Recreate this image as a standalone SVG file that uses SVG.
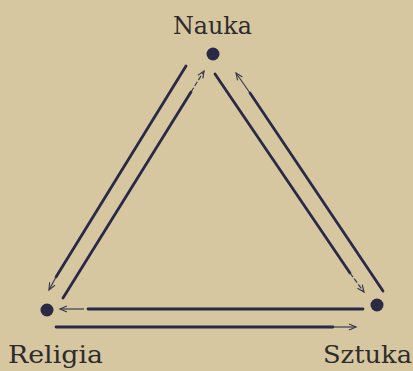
<svg xmlns="http://www.w3.org/2000/svg" width="413" height="371" viewBox="0 0 413 371">
<style>
.bg{fill:#d6c7a0}
.dot{fill:#2a2a46}
.lbl{font-family:"DejaVu Serif","Liberation Serif",serif;font-size:24px;fill:#2e2b2c}
.thick{stroke:#2a2a48;stroke-width:2.8;fill:none;stroke-linecap:round}
.thin{stroke:#3a3a50;stroke-width:1.2;fill:none;marker-end:url(#ah)}
</style>
<defs>
<marker id="ah" markerUnits="userSpaceOnUse" markerWidth="10" markerHeight="10" refX="8" refY="4" orient="auto">
<path d="M1,1 L8,4 L1,7" fill="none" stroke="#3a3a50" stroke-width="1.2"/>
</marker>
</defs>
<rect class="bg" x="0" y="0" width="413" height="371"/>
<g id="connectors">
<line class="thick" x1="186" y1="66" x2="56" y2="277"/>
<line class="thin" x1="56" y1="277" x2="49" y2="290"/>
<line class="thick" x1="63" y1="298" x2="191" y2="92"/>
<line class="thin" x1="191" y1="92" x2="204" y2="71" stroke-dasharray="5 2"/>
<line class="thick" x1="215" y1="74" x2="350" y2="273"/>
<line class="thin" x1="350" y1="273" x2="364" y2="292" stroke-dasharray="5 2"/>
<line class="thick" x1="383" y1="291" x2="250" y2="93"/>
<line class="thin" x1="250" y1="93" x2="236" y2="73"/>
<line class="thick" x1="363" y1="309" x2="88" y2="309"/>
<line class="thin" x1="84" y1="309" x2="60" y2="309"/>
<line class="thick" x1="56" y1="327" x2="333" y2="327"/>
<line class="thin" x1="333" y1="327" x2="356" y2="327"/>
</g>
<g id="nauka"><circle class="dot" cx="213" cy="54" r="6.5"/><text class="lbl" x="173" y="34" textLength="79" lengthAdjust="spacingAndGlyphs">Nauka</text></g>
<g id="religia"><circle class="dot" cx="47" cy="310" r="6.5"/><text class="lbl" x="8" y="363" textLength="95" lengthAdjust="spacingAndGlyphs">Religia</text></g>
<g id="sztuka"><circle class="dot" cx="377" cy="305" r="6.5"/><text class="lbl" x="323" y="363" textLength="89" lengthAdjust="spacingAndGlyphs">Sztuka</text></g>
</svg>
